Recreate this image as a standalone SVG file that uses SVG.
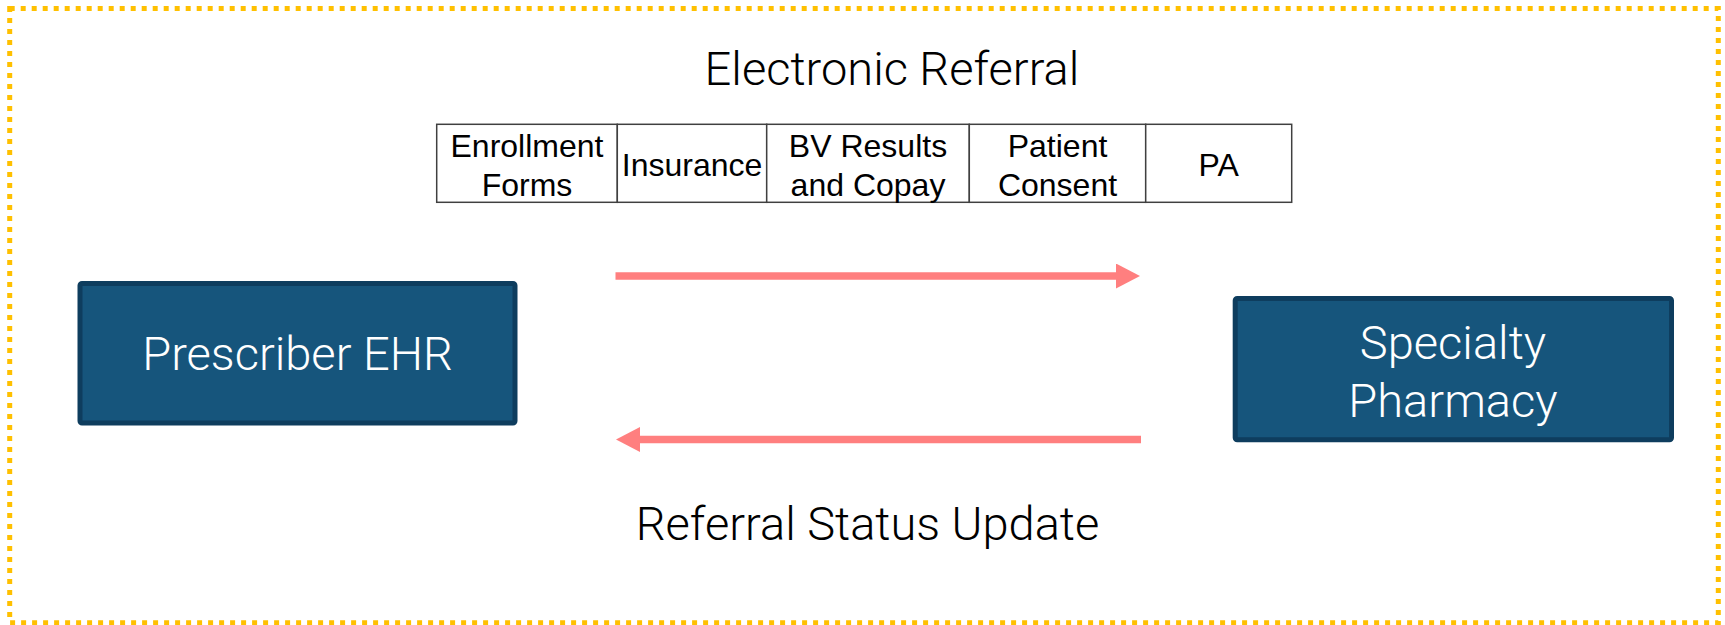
<svg xmlns="http://www.w3.org/2000/svg" width="1725" height="625" viewBox="0 0 1725 625">
  <style>
    .frame { fill: none; stroke: #FFC000; stroke-width: 5; stroke-dasharray: 5 6; }
    .node { fill: #16557C; stroke: #0E3D5E; stroke-width: 5; }
    .node-label { font-family: Roboto, "Liberation Sans", sans-serif; font-weight: 300; font-size: 47px; fill: #FFFFFF; text-anchor: middle; }
    .caption { font-family: Roboto, "Liberation Sans", sans-serif; font-weight: 300; font-size: 47px; fill: #000000; text-anchor: middle; }
    .cell { fill: #FFFFFF; stroke: #404040; stroke-width: 1.5; }
    .cell-label { font-family: "Liberation Sans", Arial, sans-serif; font-size: 32px; fill: #000000; text-anchor: middle; }
    .flow { stroke: #FF7F7F; stroke-width: 7.5; fill: none; }
  </style>
  <defs>
    <marker id="head" markerUnits="userSpaceOnUse" markerWidth="24" markerHeight="25" refX="1" refY="12.5" orient="auto">
      <path d="M0,0 L24,12.5 L0,25 Z" fill="#FF7F7F"/>
    </marker>
  </defs>

  <rect width="1725" height="625" fill="#FFFFFF"/>

  <!-- dotted outer frame -->
  <rect class="frame" x="9.7" y="8.5" width="1708.6" height="614.2"/>

  <!-- heading -->
  <text class="caption" x="892" y="85">Electronic Referral</text>

  <!-- referral contents strip -->
  <g id="referral-contents">
    <rect class="cell" x="436.7" y="124.3" width="180.6" height="78"/>
    <rect class="cell" x="617.3" y="124.3" width="149.4" height="78"/>
    <rect class="cell" x="766.7" y="124.3" width="202.6" height="78"/>
    <rect class="cell" x="969.3" y="124.3" width="176.4" height="78"/>
    <rect class="cell" x="1145.7" y="124.3" width="146" height="78"/>
    <text class="cell-label" x="527" y="157">Enrollment</text>
    <text class="cell-label" x="527" y="196">Forms</text>
    <text class="cell-label" x="692" y="176">Insurance</text>
    <text class="cell-label" x="868" y="157">BV Results</text>
    <text class="cell-label" x="868" y="196">and Copay</text>
    <text class="cell-label" x="1057.5" y="157">Patient</text>
    <text class="cell-label" x="1057.5" y="196">Consent</text>
    <text class="cell-label" x="1218.7" y="176">PA</text>
  </g>

  <g id="prescriber-ehr">
    <rect class="node" x="80" y="283.5" width="435" height="139.5" rx="2"/>
    <text class="node-label" x="297.5" y="370">Prescriber EHR</text>
  </g>

  <g id="specialty-pharmacy">
    <rect class="node" x="1235.2" y="298.5" width="436.3" height="141.3" rx="2"/>
    <text class="node-label" x="1453" y="359">Specialty</text>
    <text class="node-label" x="1453" y="417">Pharmacy</text>
  </g>

  <g id="connectors">
    <line class="flow" x1="615.5" y1="276" x2="1117" y2="276" marker-end="url(#head)"/>
    <line class="flow" x1="1141" y1="439.5" x2="639" y2="439.5" marker-end="url(#head)"/>
  </g>

  <!-- return label -->
  <text class="caption" x="867.5" y="540">Referral Status Update</text>
</svg>
